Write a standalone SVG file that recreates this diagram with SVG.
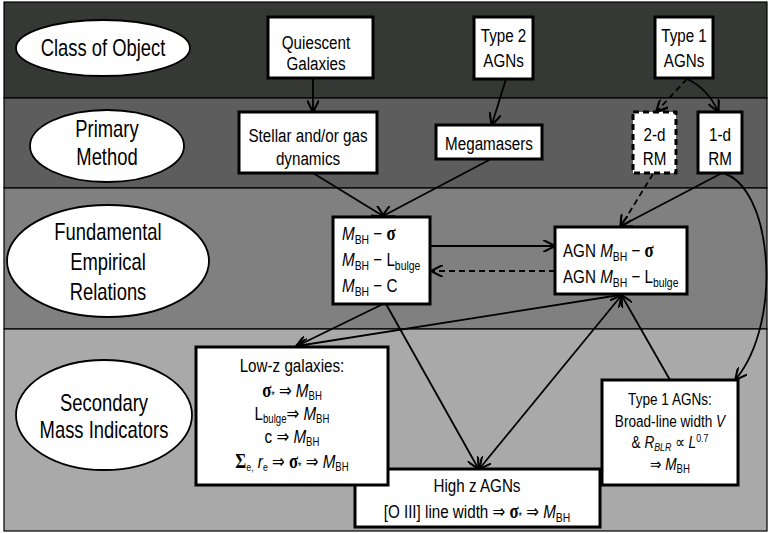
<svg xmlns="http://www.w3.org/2000/svg" width="770" height="533" viewBox="0 0 770 533">
<defs>
<style>
.band{stroke:#000;stroke-width:1.2}
.ell{fill:#fff;stroke:#000;stroke-width:1.8}
.box{fill:#fff;stroke:#000;stroke-width:3}
.dbox{fill:#fff;stroke:#000;stroke-width:3;stroke-dasharray:6 4}
text{font-family:"Liberation Sans","DejaVu Sans",sans-serif;fill:#000}
.el{font-size:23px;text-anchor:middle}
.t{font-size:19px;text-anchor:middle}
.tl{font-size:19px;text-anchor:start}
.ts{font-size:17px;text-anchor:middle}
.g{font-family:"Liberation Serif","DejaVu Serif",serif;font-weight:bold;font-size:21px}
.i{font-style:italic}
.c{fill:none;stroke:#000;stroke-width:1.8}
.d{stroke-dasharray:6 4}
</style>
<marker id="arr" viewBox="0 0 10 10" refX="9" refY="5" markerWidth="12" markerHeight="12" markerUnits="userSpaceOnUse" orient="auto-start-reverse">
<path d="M0,0 L10,5 L0,10" fill="none" stroke="#000" stroke-width="1.8"/>
</marker>
</defs>

<g id="bands">
<rect class="band" x="4" y="2" width="763" height="96" fill="#363836"/>
<rect class="band" x="4" y="98" width="763" height="90" fill="#5d5d5d"/>
<rect class="band" x="4" y="188" width="763" height="141" fill="#808080"/>
<rect class="band" x="4" y="329" width="763" height="202" fill="#a9a9a9"/>
</g>

<g id="lbl-class">
<ellipse class="ell" cx="103" cy="48" rx="87" ry="28"/>
<text class="el" transform="scale(0.8,1)" x="128.75" y="56">Class of Object</text>
</g>
<g id="lbl-method">
<ellipse class="ell" cx="107" cy="146" rx="77" ry="36"/>
<text class="el" transform="scale(0.8,1)" x="133.75" y="137">Primary</text>
<text class="el" transform="scale(0.8,1)" x="133.75" y="165">Method</text>
</g>
<g id="lbl-fund">
<ellipse class="ell" cx="108" cy="261" rx="101" ry="56"/>
<text class="el" transform="scale(0.8,1)" x="135" y="240">Fundamental</text>
<text class="el" transform="scale(0.8,1)" x="135" y="270">Empirical</text>
<text class="el" transform="scale(0.8,1)" x="135" y="300">Relations</text>
</g>
<g id="lbl-secondary">
<ellipse class="ell" cx="104" cy="415" rx="88" ry="55"/>
<text class="el" transform="scale(0.8,1)" x="130" y="411">Secondary</text>
<text class="el" transform="scale(0.8,1)" x="130" y="438">Mass Indicators</text>
</g>

<g id="connectors">
<path class="c" d="M313,78 L313,111" marker-end="url(#arr)"/>
<path class="c" d="M506,79 L492,124" marker-end="url(#arr)"/>
<path class="c d" d="M687,79 L657,111" marker-end="url(#arr)"/>
<path class="c" d="M687,79 Q707,88 718,111" marker-end="url(#arr)"/>
<path class="c" d="M313,173 L383,216" marker-end="url(#arr)"/>
<path class="c" d="M491,159 L383,216" marker-end="url(#arr)"/>
<path class="c" d="M430,246 L554,246" marker-end="url(#arr)"/>
<path class="c d" d="M555,271 L432,271" marker-end="url(#arr)"/>
<path class="c d" d="M653,174 L621,226" marker-end="url(#arr)"/>
<path class="c" d="M722,173 L621,226" marker-end="url(#arr)"/>
<path class="c" d="M722,173 C772,185 784,320 736,379" marker-end="url(#arr)"/>
<path class="c" d="M383,304 L297,346" marker-end="url(#arr)"/>
<path class="c" d="M620,295 L297,346" marker-end="url(#arr)"/>
<path class="c" d="M386,304 L478,468" marker-end="url(#arr)"/>
<path class="c" d="M621,296 L480,468" marker-start="url(#arr)" marker-end="url(#arr)"/>
<path class="c" d="M670,380 L622,296" marker-end="url(#arr)"/>
</g>

<g id="n-quiescent">
<rect class="box" x="268" y="17" width="105" height="61"/>
<text class="t" transform="scale(0.8,1)" x="395" y="49">Quiescent</text>
<text class="t" transform="scale(0.8,1)" x="395" y="70">Galaxies</text>
</g>
<g id="n-type2">
<rect class="box" x="474" y="17" width="59" height="62"/>
<text class="t" transform="scale(0.8,1)" x="629.4" y="42">Type 2</text>
<text class="t" transform="scale(0.8,1)" x="629.4" y="67">AGNs</text>
</g>
<g id="n-type1">
<rect class="box" x="655" y="17" width="58" height="61"/>
<text class="t" transform="scale(0.8,1)" x="855" y="42">Type 1</text>
<text class="t" transform="scale(0.8,1)" x="855" y="67">AGNs</text>
</g>
<g id="n-stellar">
<rect class="box" x="239" y="112" width="138" height="61"/>
<text class="t" transform="scale(0.8,1)" x="385" y="142">Stellar and/or gas</text>
<text class="t" transform="scale(0.8,1)" x="385" y="165">dynamics</text>
</g>
<g id="n-megamasers">
<rect class="box" x="436" y="125" width="106" height="34"/>
<text class="t" transform="scale(0.8,1)" x="611.25" y="150">Megamasers</text>
</g>
<g id="n-2drm">
<rect class="dbox" x="633" y="112" width="43" height="61"/>
<text class="t" transform="scale(0.8,1)" x="818.1" y="141">2-d</text>
<text class="t" transform="scale(0.8,1)" x="818.1" y="165">RM</text>
</g>
<g id="n-1drm">
<rect class="box" x="698" y="112" width="44" height="61"/>
<text class="t" transform="scale(0.8,1)" x="900" y="141">1-d</text>
<text class="t" transform="scale(0.8,1)" x="900" y="165">RM</text>
</g>
<g id="n-mbh">
<rect class="box" x="333" y="217" width="97" height="87"/>
<text class="tl" transform="scale(0.8,1)" x="427.5" y="240"><tspan class="i">M</tspan><tspan font-size="13" dy="4">BH</tspan><tspan dy="-4"> − </tspan><tspan class="g">σ</tspan></text>
<text class="tl" transform="scale(0.8,1)" x="427.5" y="266"><tspan class="i">M</tspan><tspan font-size="13" dy="4">BH</tspan><tspan dy="-4"> − L</tspan><tspan font-size="13" dy="4">bulge</tspan></text>
<text class="tl" transform="scale(0.8,1)" x="427.5" y="292"><tspan class="i">M</tspan><tspan font-size="13" dy="4">BH</tspan><tspan dy="-4"> − C</tspan></text>
</g>
<g id="n-agn">
<rect class="box" x="555" y="227" width="132" height="67"/>
<text class="tl" transform="scale(0.8,1)" x="703.75" y="257">AGN <tspan class="i">M</tspan><tspan font-size="13" dy="4">BH</tspan><tspan dy="-4"> − </tspan><tspan class="g">σ</tspan></text>
<text class="tl" transform="scale(0.8,1)" x="703.75" y="283">AGN <tspan class="i">M</tspan><tspan font-size="13" dy="4">BH</tspan><tspan dy="-4"> − L</tspan><tspan font-size="13" dy="4">bulge</tspan></text>
</g>
<g id="n-highz">
<rect class="box" x="355" y="469" width="245" height="58"/>
<text class="t" transform="scale(0.8,1)" x="596.25" y="492">High z AGNs</text>
<text class="t" transform="scale(0.8,1)" x="596.25" y="518">[O III] line width ⇒ <tspan class="g">σ</tspan><tspan font-size="11" dy="2">*</tspan><tspan dy="-2"> ⇒ </tspan><tspan class="i">M</tspan><tspan font-size="13" dy="4">BH</tspan></text>
</g>
<g id="n-lowz">
<rect class="box" x="196" y="347" width="192" height="138"/>
<text class="t" transform="scale(0.8,1)" x="365" y="372">Low-z galaxies:</text>
<text class="t" transform="scale(0.8,1)" x="365" y="397"><tspan class="g">σ</tspan><tspan font-size="11" dy="2">*</tspan><tspan dy="-2"> ⇒ </tspan><tspan class="i">M</tspan><tspan font-size="12" dy="3">BH</tspan></text>
<text class="t" transform="scale(0.8,1)" x="365" y="420">L<tspan font-size="12" dy="3">bulge</tspan><tspan dy="-3">⇒ </tspan><tspan class="i">M</tspan><tspan font-size="12" dy="3">BH</tspan></text>
<text class="t" transform="scale(0.8,1)" x="365" y="443">c ⇒ <tspan class="i">M</tspan><tspan font-size="12" dy="3">BH</tspan></text>
<text class="t" transform="scale(0.8,1)" x="365" y="468"><tspan class="g">Σ</tspan><tspan font-size="11" dy="3">e,</tspan><tspan dy="-3"> </tspan><tspan class="i">r</tspan><tspan font-size="11" dy="3">e</tspan><tspan dy="-3"> ⇒ </tspan><tspan class="g">σ</tspan><tspan font-size="11" dy="2">*</tspan><tspan dy="-2"> ⇒ </tspan><tspan class="i">M</tspan><tspan font-size="12" dy="3">BH</tspan></text>
</g>
<g id="n-type1-secondary">
<rect class="box" x="602" y="380" width="136" height="105"/>
<text class="ts" transform="scale(0.8,1)" x="837.5" y="405">Type 1  AGNs:</text>
<text class="ts" transform="scale(0.8,1)" x="837.5" y="427">Broad-line width <tspan class="i">V</tspan></text>
<text class="ts" transform="scale(0.8,1)" x="837.5" y="448">&amp; <tspan class="i">R</tspan><tspan class="i" font-size="11" dy="3">BLR</tspan><tspan dy="-3"> ∝ </tspan><tspan class="i">L</tspan><tspan font-size="11" dy="-6">0.7</tspan></text>
<text class="ts" transform="scale(0.8,1)" x="837.5" y="470">⇒ <tspan class="i">M</tspan><tspan font-size="12" dy="3">BH</tspan></text>
</g>
</svg>
